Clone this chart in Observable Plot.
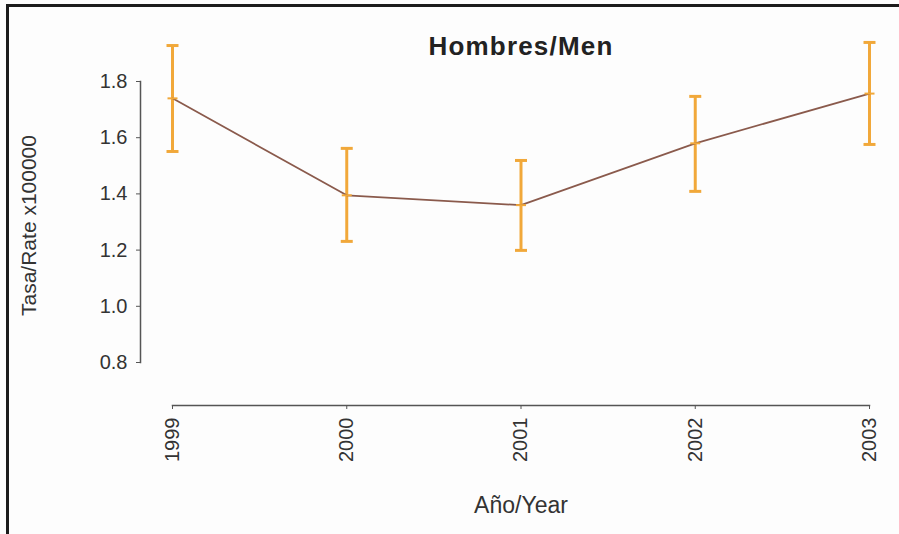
<!DOCTYPE html>
<html><head><meta charset="utf-8">
<script src="https://cdn.jsdelivr.net/npm/d3@7"></script>
<script src="https://cdn.jsdelivr.net/npm/@observablehq/plot@0.6"></script>
<style>
html,body{margin:0;padding:0;background:#fdfdfd}
#wrap{position:relative;width:899px;height:534px;overflow:hidden}
#bt{position:absolute;left:6px;top:4px;width:893px;height:3px;background:#1c1c1c}
#bl{position:absolute;left:6px;top:4px;width:3px;height:530px;background:#1c1c1c}
#chart{position:absolute;left:0;top:0}
</style>
</head><body>
<div id="wrap"><div id="chart"></div><div id="bt"></div><div id="bl"></div></div>
<script>
const title = "Hombres/Men";
const xLabel = "Año/Year";
const yLabel = "Tasa/Rate x100000";
const years = [1999, 2000, 2001, 2002, 2003];
const rate  = [1.740, 1.395, 1.360, 1.580, 1.757];
const lower = [1.551, 1.231, 1.199, 1.409, 1.576];
const upper = [1.928, 1.562, 1.519, 1.747, 1.939];
const yTicks = [0.8, 1.0, 1.2, 1.4, 1.6, 1.8];

const data = years.map((y, i) => ({year: y, rate: rate[i], lo: lower[i], hi: upper[i]}));

const orange = "#f1a83a";
const brown = "#8a5a4c";
const axisColor = "#555";
const textColor = "#333";
const font = "'Liberation Sans', Arial, sans-serif";

const hbar = {draw(ctx, size) { const r = Math.sqrt(size / Math.PI); ctx.moveTo(-r, 0); ctx.lineTo(r, 0); }};

const chart = Plot.plot({
  width: 899, height: 534,
  marginLeft: 140, marginRight: 30, marginTop: 81, marginBottom: 129,
  style: {fontFamily: font, background: "transparent", color: textColor},
  x: {domain: [1999, 2003], insetLeft: 32},
  y: {domain: [0.8, 1.8], insetBottom: 43},
  marks: [
    Plot.frame({anchor: "left", insetBottom: 43, stroke: axisColor, strokeWidth: 1.5}),
    Plot.frame({anchor: "bottom", insetLeft: 32, stroke: axisColor, strokeWidth: 1.5}),
    Plot.axisY({ticks: yTicks, tickFormat: d3.format(".1f"), tickSize: 4, tickPadding: 9, fontSize: 20, label: null, stroke: axisColor, fill: textColor}),
    Plot.axisX({ticks: years, tickFormat: d => String(d), tickRotate: -90, tickSize: 4, tickPadding: 8, fontSize: 20, label: null, stroke: axisColor, fill: textColor}),
    Plot.ruleX(data, {x: "year", y1: "lo", y2: "hi", stroke: orange, strokeWidth: 3}),
    Plot.dot(data, {x: "year", y: "hi", symbol: hbar, r: 6, stroke: orange, strokeWidth: 3, fill: "none"}),
    Plot.dot(data, {x: "year", y: "lo", symbol: hbar, r: 6, stroke: orange, strokeWidth: 3, fill: "none"}),
    Plot.lineY(data, {x: "year", y: "rate", stroke: brown, strokeWidth: 1.75}),
    Plot.dot(data, {x: "year", y: "rate", symbol: hbar, r: 5, stroke: orange, strokeWidth: 2, fill: "none"}),
    Plot.text([title], {frameAnchor: "top", textAnchor: "middle", dx: 16, dy: -27, lineAnchor: "bottom", fontSize: 26, fontWeight: "bold", fill: "#222", className: "ttl"}),
    Plot.text([xLabel], {frameAnchor: "bottom", textAnchor: "middle", dx: 16, dy: 107, lineAnchor: "bottom", fontSize: 23, fill: textColor}),
    Plot.text([yLabel], {frameAnchor: "left", textAnchor: "middle", dx: -105, dy: -18, rotate: -90, lineAnchor: "bottom", fontSize: 21, fill: textColor})
  ]
});
d3.select(chart).selectAll("g.ttl text").attr("letter-spacing", "1.2px");
document.getElementById("chart").appendChild(chart);
</script>
</body></html>
